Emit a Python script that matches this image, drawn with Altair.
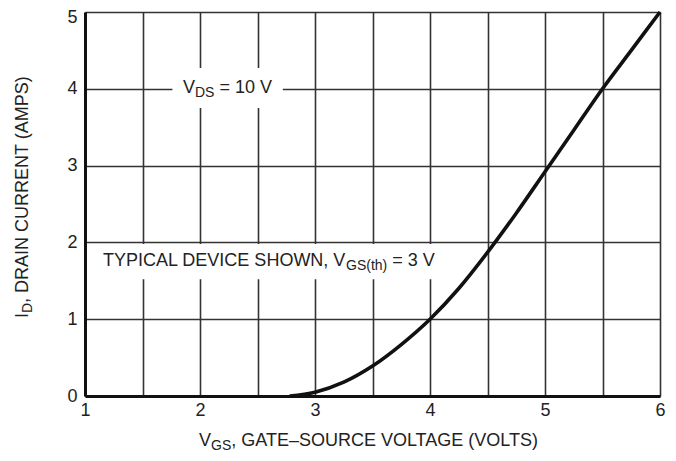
import altair as alt
import pandas as pd

# ---- data ----
vgs = [2.78, 3.0, 3.25, 3.5, 3.75, 4.0, 4.25, 4.5, 4.75, 5.0, 5.25, 5.5, 5.75, 6.0]
id_amps = [0.0, 0.05, 0.18, 0.39, 0.67, 1.0, 1.4, 1.87, 2.38, 2.92, 3.46, 4.0, 4.5, 5.0]
x_grid = [1, 1.5, 2, 2.5, 3, 3.5, 4, 4.5, 5, 5.5, 6]
y_grid = [0, 0.5, 1, 1.5, 2, 2.5, 3, 3.5, 4, 4.5, 5]

# annotation boxes (white background behind the in-plot notes)
box_x = [1.76, 1.03]
box_x2 = [2.72, 4.2]
box_y = [3.75, 1.52]
box_y2 = [4.27, 1.98]

FONT = "Liberation Sans"
INK = "#222222"
MAIN = 18
SUB = 14

# approximate Liberation Sans (Arial-metric) advance widths, per 1000 em
W = {" ": 278, ",": 278, "(": 333, ")": 333, "=": 584, "\u2013": 556,
     "t": 278, "h": 556, "I": 278, "M": 833, "W": 944, "L": 556, "T": 611,
     "G": 778, "O": 778, "C": 722, "D": 722, "H": 722, "N": 722, "R": 722, "U": 722,
     "F": 611, "J": 500}


def tw(s, size):
    return sum(W.get(c, 556 if c.isdigit() else 667) for c in s) * size / 1000.0


curve = pd.DataFrame({"vgs": vgs, "id": id_amps})
boxes = pd.DataFrame({"x": box_x, "x2": box_x2, "y": box_y, "y2": box_y2})

xscale = alt.Scale(domain=[1, 6], nice=False, zero=False)
yscale = alt.Scale(domain=[0, 5], nice=False, zero=True)

label_expr = "datum.value % 1 == 0 ? format(datum.value, 'd') : ''"

xaxis = alt.Axis(values=x_grid, labelExpr=label_expr, grid=True, ticks=False,
                 domainWidth=3, domainColor="#111", gridColor="#333", gridWidth=1.6,
                 labelFont=FONT, labelFontSize=18, labelColor=INK, labelPadding=5,
                 labelAngle=0, title=None, labelFlush=False)
yaxis = alt.Axis(values=y_grid, labelExpr=label_expr, grid=True, ticks=False,
                 domainWidth=3, domainColor="#111", gridColor="#333", gridWidth=1.6,
                 labelFont=FONT, labelFontSize=18, labelColor=INK, labelPadding=8,
                 labelOffset={"condition": {"test": "datum.value == 5", "value": 5}, "value": 0},
                 title=None, labelFlush=False)

rects = alt.Chart(boxes).mark_rect(fill="white").encode(
    x=alt.X("x:Q", scale=xscale, axis=xaxis),
    x2="x2:Q",
    y=alt.Y("y:Q", scale=yscale, axis=yaxis),
    y2="y2:Q",
)

line = alt.Chart(curve).mark_line(color="#111", strokeWidth=3.6, interpolate="monotone").encode(
    x=alt.X("vgs:Q", scale=xscale),
    y=alt.Y("id:Q", scale=yscale),
)


def note(text, xv, yv, size, dx, dy):
    df = pd.DataFrame({"x": [xv], "y": [yv], "t": [text]})
    return alt.Chart(df).mark_text(font=FONT, fontSize=size, color=INK, align="left",
                                   baseline="middle", dx=dx, dy=dy).encode(
        x=alt.X("x:Q", scale=xscale), y=alt.Y("y:Q", scale=yscale), text="t:N")


def label(text, px, py, size, angle=0):
    df = pd.DataFrame({"t": [text]})
    return alt.Chart(df).mark_text(font=FONT, fontSize=size, color=INK, align="left",
                                   baseline="middle", angle=angle).encode(
        x=alt.value(px), y=alt.value(py), text="t:N")


def split(txt, size):
    # leading spaces are collapsed in SVG text, so turn them into an offset
    stripped = txt.lstrip(" ")
    return stripped, tw(txt[: len(txt) - len(stripped)], size)


def note_run(pieces, xv, yv, start_dx, base_dy, sub_dy):
    out, dx = [], start_dx
    for txt, is_sub in pieces:
        size = SUB if is_sub else MAIN
        body, gap = split(txt, size)
        dx += gap
        out.append(note(body, xv, yv, size, dx, base_dy + (sub_dy if is_sub else 0)))
        dx += tw(body, size)
    return out


def label_run(pieces, px, py, sub_off):
    out, x = [], px
    for txt, is_sub in pieces:
        size = SUB if is_sub else MAIN
        body, gap = split(txt, size)
        x += gap
        out.append(label(body, x, py + (sub_off if is_sub else 0), size))
        x += tw(body, size)
    return out


def vlabel_run(pieces, px, py, sub_off):
    out, y = [], py
    for txt, is_sub in pieces:
        size = SUB if is_sub else MAIN
        body, gap = split(txt, size)
        y -= gap
        out.append(label(body, px + (sub_off if is_sub else 0), y, size, 270))
        y -= tw(body, size)
    return out


layers = [rects, line]
# V_DS = 10 V  (plot x=1 is at pixel 0 of the plot area)
layers += note_run([("V", False), ("DS", True), (" = 10 V", False)], 1, 4, 98, -1, 5)
# TYPICAL DEVICE SHOWN, V_GS(th) = 3 V
layers += note_run([("TYPICAL DEVICE SHOWN, V", False), ("GS(th)", True), (" = 3 V", False)],
                   1, 1.75, 18, -1, 5)
# x title
layers += label_run([("V", False), ("GS", True), (", GATE\u2013SOURCE VOLTAGE (VOLTS)", False)],
                    114, 429, 5)
# y title (rotated, reads bottom to top)
layers += vlabel_run([("I", False), ("D", True), (", DRAIN CURRENT (AMPS)", False)],
                     -62, 306, 5)

chart = alt.layer(*layers).properties(
    width=575, height=384,
    autosize=alt.AutoSizeParams(type="none"),
    padding={"left": 77, "top": 4, "right": 8, "bottom": 60},
).configure_view(stroke="#333", strokeWidth=1.6).configure(background="white")

chart.save("out.html", embed_options={"renderer": "svg", "actions": False})
